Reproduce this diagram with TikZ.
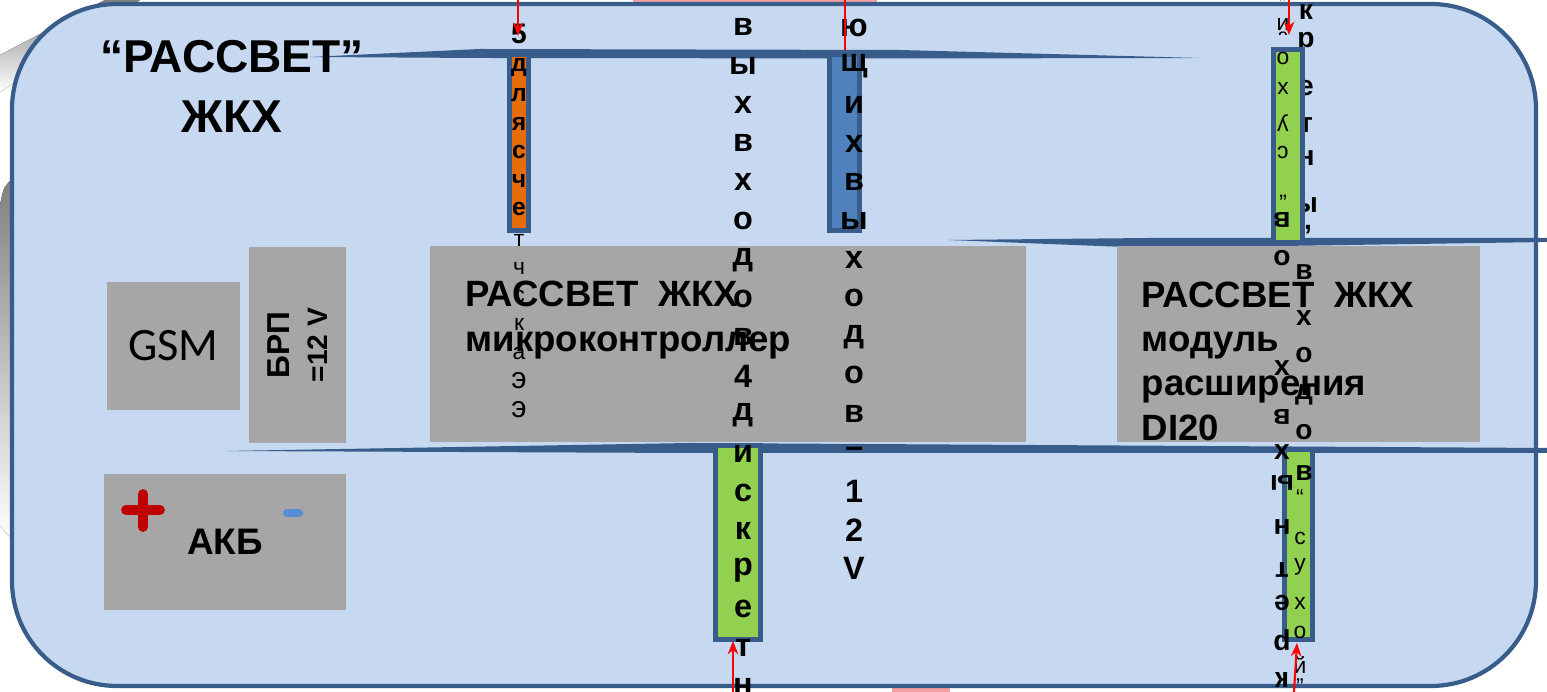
\documentclass[tikz,border=0pt]{standalone}
\usepackage{fontspec}
\setmainfont{Liberation Sans}
\newfontfamily\gsmfont{Carlito}
\usetikzlibrary{arrows.meta}
\definecolor{panel}{HTML}{C6D9F0}
\definecolor{edge}{HTML}{385D8A}
\definecolor{unit}{HTML}{A6A6A6}
\definecolor{cnt}{HTML}{E46C0A}
\definecolor{outs}{HTML}{4F81BD}
\definecolor{ins}{HTML}{92D050}
\definecolor{shade}{HTML}{B4B4B4}
\definecolor{rose}{HTML}{F4A0A0}
\definecolor{plus}{HTML}{C00000}
\definecolor{minus}{HTML}{558ED5}
\tikzset{
  unitbox/.style={fill=unit, inner sep=0pt},
  bar/.style={draw=edge, line width=1.4pt, inner sep=0pt},
  bus/.style={fill=edge},
  ltr/.style={inner sep=0pt, font=\bfseries\fontsize{9.2}{9.2}\selectfont},
  bltr/.style={inner sep=0pt, font=\bfseries\fontsize{8}{8}\selectfont},
  sltr/.style={inner sep=0pt, font=\fontsize{6.5}{6.5}\selectfont},
  wire/.style={red, line width=0.6pt},
  wirearr/.style={wire, -{Stealth[length=3.8pt,width=3pt]}}
}
\begin{document}
\begin{tikzpicture}[x=0.01cm, y=-0.01cm]
  \useasboundingbox (0,0) rectangle (1547,692);
  % backdrop
  \fill[shade] (0,55) -- (105,0) -- (140,0) -- (0,92) -- cycle;
  \fill[shade] (0,205) .. controls (4,186) .. (14,178) -- (14,542) -- (0,526) -- cycle;
  \fill[rose] (633,0) rectangle (877,4);
  \fill[rose] (892,684) rectangle (950,692);
  \draw[edge, fill=panel, line width=1.2pt, rounded corners=1.05cm] (12,4) rectangle (1536,686);
  % buses
  \fill[bus] (310,57) -- (480,49) -- (900,50) -- (1200,58) -- (900,58.5) -- (480,58) -- cycle;
  \fill[bus] (948,240) -- (1150,238) -- (1547,238) -- (1547,242) -- (1150,248) -- cycle;
  \fill[bus] (225,451) -- (690,443) -- (1547,448) -- (1547,453) -- (690,453) -- cycle;
  % title
  \node[font=\bfseries\fontsize{13.1}{17.1}\selectfont, align=center, inner sep=0pt] (title) at (232,86) {“РАССВЕТ”\\ЖКХ};
  % units
  \node[unitbox, minimum width=1.33cm, minimum height=1.28cm, font=\gsmfont\fontsize{13.2}{13.2}\selectfont] (gsm) at (173.5,346) {GSM};
  \node[unitbox, minimum width=1.96cm, minimum height=0.97cm, rotate=90, align=center, font=\bfseries\fontsize{9}{10.8}\selectfont] (brp) at (297.5,345) {БРП\\{\fontsize{8}{10.8}\selectfont =12 V}};
  \node[unitbox, minimum width=5.96cm, minimum height=1.96cm] (mcu) at (728,344) {};
  \node[anchor=north west, align=left, inner sep=0pt, font=\bfseries\fontsize{10.4}{12.8}\selectfont] (mcut) at (465,280) {РАССВЕТ\ \ ЖКХ\\микроконтроллер};
  \node[unitbox, minimum width=3.63cm, minimum height=1.96cm] (mod) at (1298.5,344) {};
  \node[anchor=north west, align=left, inner sep=0pt, font=\bfseries\fontsize{10.4}{12.6}\selectfont] (modt) at (1141,281) {РАССВЕТ\ \ ЖКХ\\модуль\\расширения\\DI20};
  \node[unitbox, minimum width=2.42cm, minimum height=1.36cm, font=\bfseries\fontsize{10.5}{10.5}\selectfont] (akb) at (225,542) {АКБ};
  \draw[plus, line width=2.8pt, line cap=round] (126,510) -- (160,510) (143,494) -- (143,527);
  \draw[minus, line width=2.3pt, line cap=round] (287,513) -- (299,513);
  % letters behind the upper green bar
  \foreach \ch/\y in {к/12, р/43, е/88, т/125, н/158, ы/205}
    \node[bltr] (r\y) at (1306,\y) {\ch};
  \node[bltr] (rcomma) at (1308,230) {,};
  % bars
  \node[bar, fill=cnt, minimum width=0.19cm, minimum height=1.76cm] (cntbar) at (519,142.5) {};
  \node[bar, fill=outs, minimum width=0.30cm, minimum height=1.76cm] (outbar) at (844.5,142.5) {};
  \node[bar, fill=ins, minimum width=0.29cm, minimum height=1.93cm] (drybar) at (1288,146) {};
  \node[bar, fill=ins, minimum width=0.45cm, minimum height=1.94cm] (dibar) at (738,542.5) {};
  \node[bar, fill=ins, minimum width=0.28cm, minimum height=1.90cm] (drybarb) at (1298.5,544.5) {};
  % letter columns
  \node[bltr] (c0) at (519,34) {5};
  \foreach \ch [count=\i] in {д,л,я,с,ч,е}
    \node[inner sep=0pt, font=\bfseries\fontsize{7}{7}\selectfont] (c\i) at (519,{67+28.4*(\i-1)}) {\ch};
  \foreach \ch [count=\i] in {т,ч,с,к,а}
    \node[sltr] (cc\i) at (519,{240+28.3*(\i-1)}) {\ch};
  \node[inner sep=0pt, font=\fontsize{8.5}{8.5}\selectfont] (ce1) at (519,381) {э};
  \node[inner sep=0pt, font=\fontsize{8.5}{8.5}\selectfont] (ce2) at (519,410) {э};
  \foreach \ch [count=\i] in {в,ы,х,в,х,о,д,о,в,4,д,и,с,к,р,е,т,н}
    \node[ltr] (d\i) at (743,{27+38.8*(\i-1)}) {\ch};
  \foreach \ch [count=\i] in {ю,щ,и,х,в,ы,х,о,д,о,в,–,1,2,V}
    \node[ltr] (o\i) at (854,{28+38.6*(\i-1)}) {\ch};
  \foreach \ch/\y/\r in {”/4/0, й/27/180, о/58/0, х/88/0, у/123/180, с/153/180, “/192/180}
    \node[sltr, rotate=\r] (a\y) at (1283,\y) {\ch};
  \foreach \ch/\y/\r in {в/220/180, о/258/0, х/368/0, в/417/180, х/452/0, ы/483/180, н/527/180, т/570/180, е/603/180, р/640/180, к/680/180}
    \node[bltr, rotate=\r] (a\y) at (1282,\y) {\ch};
  \foreach \ch/\y in {в/272, х/318, о/355, д/395, о/432, в/473}
    \node[bltr] (r\y) at (1304,\y) {\ch};
  \foreach \ch/\y in {“/498, с/538, у/567, х/603, о/632, й/665, ”/687}
    \node[sltr] (r\y) at (1300,\y) {\ch};
  % wires
  \coordinate (w1) at (518,0);   \coordinate (w1e) at (518,36);
  \coordinate (w2) at (845,0);   \coordinate (w2e) at (845,50);
  \coordinate (w3) at (1289,0);  \coordinate (w3e) at (1289,35);
  \coordinate (w4) at (733,692); \coordinate (w4e) at (733,641);
  \coordinate (w5) at (1294,692); \coordinate (w5e) at (1297,643);
  \draw[wirearr] (w1) -- (w1e);
  \draw[wire] (w2) -- (w2e);
  \draw[wirearr] (w3) -- (w3e);
  \draw[wirearr] (w4) -- (w4e);
  \draw[wirearr] (w5) -- (w5e);
\end{tikzpicture}
\end{document}
